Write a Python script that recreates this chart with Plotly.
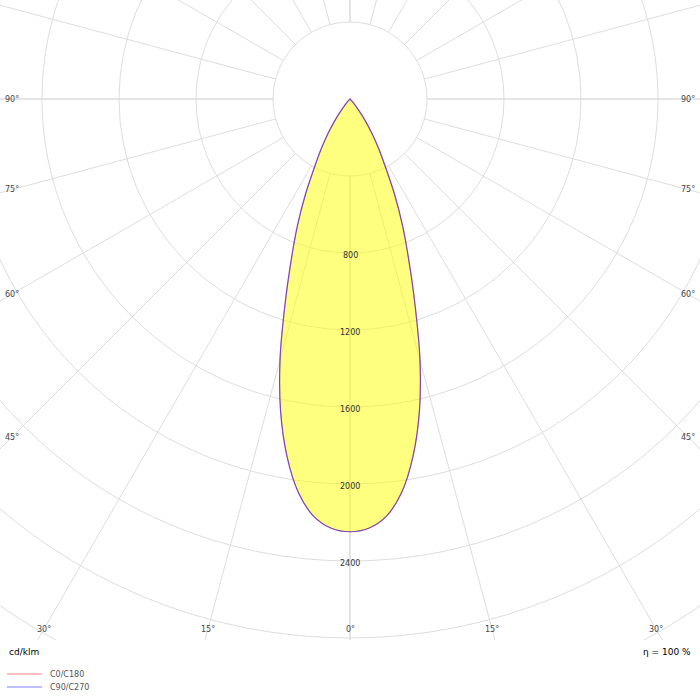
import numpy as np
import plotly.graph_objects as go

# luminous intensity (cd/klm) against gamma angle
gamma = [0, 2.5, 5, 7.5, 10, 12.5, 15, 17.5, 20, 22.5, 25, 27.5, 30,
         32.5, 35, 37.5, 40, 42.5, 45, 50, 60, 70, 80, 90]
c0_c180 = [2248, 2232, 2175, 2060, 1885, 1665, 1405, 1125, 895, 715, 550, 400, 300,
           215, 140, 75, 38, 12, 3, 0, 0, 0, 0, 0]
c90_c270 = [2248, 2232, 2175, 2060, 1885, 1665, 1405, 1125, 895, 715, 550, 400, 300,
            215, 140, 75, 38, 12, 3, 0, 0, 0, 0, 0]

rings = [400, 800, 1200, 1600, 2000, 2400, 2800, 3200, 3600]
ring_labels = [800, 1200, 1600, 2000, 2400]
bottom_labels = [0, 15, 30]
side_labels = [45, 60, 75, 90]

# px <-> cd
k = 400 / 77.0
cx, cy = 350, 99
W, H = 700, 640

FONT = "DejaVu Sans"
GRID = "#dddddd"


def outline(vals):
    g = np.radians(gamma)
    v = np.array(vals, dtype=float)
    xr = v * np.sin(g)
    yr = -v * np.cos(g)
    xs = np.concatenate([xr, -xr[::-1]])
    ys = np.concatenate([yr, yr[::-1]])
    return xs, ys


fig = go.Figure()

x0, y0 = outline(c0_c180)
fig.add_trace(go.Scatter(x=x0, y=y0, mode="lines", fill="toself",
                         fillcolor="rgba(255,255,0,0.5)",
                         line=dict(width=0, shape="spline", smoothing=0.8),
                         hoverinfo="skip", showlegend=False))
fig.add_trace(go.Scatter(x=x0, y=y0, mode="lines", name="C0/C180",
                         line=dict(color="rgba(255,0,0,0.45)", width=1.2,
                                   shape="spline", smoothing=0.8),
                         showlegend=False))
x1, y1 = outline(c90_c270)
fig.add_trace(go.Scatter(x=x1, y=y1, mode="lines", name="C90/C270",
                         line=dict(color="rgba(0,0,255,0.5)", width=1.2,
                                   shape="spline", smoothing=0.8),
                         showlegend=False))

shapes = []
for r in rings:
    shapes.append(dict(type="circle", xref="x", yref="y", x0=-r, x1=r, y0=-r, y1=r,
                       line=dict(color=GRID, width=1), layer="below"))
for a in range(0, 360, 15):
    t = np.radians(a)
    r0, r1 = 400, 5000
    shapes.append(dict(type="line", xref="x", yref="y",
                       x0=r0 * np.sin(t), y0=-r0 * np.cos(t),
                       x1=r1 * np.sin(t), y1=-r1 * np.cos(t),
                       line=dict(color=GRID, width=1.6 if a % 90 == 0 else 1),
                       layer="below"))

ann = []
for r in ring_labels:
    ann.append(dict(x=0, y=-r, yshift=-2, text=str(r), showarrow=False,
                    font=dict(family=FONT, size=8, color="#333333")))
for a in bottom_labels:
    for s in ([1] if a == 0 else [-1, 1]):
        ann.append(dict(x=s * np.tan(np.radians(a)) * 530 * k, y=-530 * k,
                        text=f"{a}°", showarrow=False,
                        font=dict(family=FONT, size=8, color="#444444")))
for a in side_labels:
    dy = 338 / np.tan(np.radians(a))
    for s in [-1, 1]:
        ann.append(dict(x=s * 338 * k, y=-dy * k, text=f"{a}°", showarrow=False,
                        font=dict(family=FONT, size=8, color="#444444")))

ann.append(dict(xref="paper", yref="paper", x=7 / W, y=1 - 652 / 700, xanchor="left",
                yanchor="middle", text="cd/klm", showarrow=False,
                font=dict(family=FONT, size=9, color="#000000")))
ann.append(dict(xref="paper", yref="paper", x=693 / W, y=1 - 652 / 700, xanchor="right",
                yanchor="middle", text="η = 100 %", showarrow=False,
                font=dict(family=FONT, size=9, color="#000000")))

# legend drawn by hand to keep the tight spacing
for name, col, ypx in [("C0/C180", "rgba(255,0,0,0.25)", 674),
                       ("C90/C270", "rgba(0,0,255,0.25)", 687)]:
    shapes.append(dict(type="line", xref="paper", yref="paper",
                       x0=7 / W, x1=42 / W, y0=1 - ypx / 700, y1=1 - ypx / 700,
                       line=dict(color=col, width=2)))
    ann.append(dict(xref="paper", yref="paper", x=48 / W, y=1 - ypx / 700,
                    xanchor="left", yanchor="middle", text=name, showarrow=False,
                    font=dict(family=FONT, size=8, color="#555555")))

fig.update_layout(
    width=700, height=700,
    margin=dict(l=0, r=0, t=0, b=0),
    paper_bgcolor="white", plot_bgcolor="white",
    xaxis=dict(range=[-cx * k, (W - cx) * k], domain=[0, 1], visible=False,
               showgrid=False, zeroline=False),
    yaxis=dict(range=[-(H - cy) * k, cy * k], domain=[1 - H / 700, 1], visible=False,
               showgrid=False, zeroline=False),
    shapes=shapes, annotations=ann, showlegend=False,
)

fig.write_html("out.html", config={"displayModeBar": False},
               post_script="document.body.style.margin='0px';"
                           "document.body.style.overflow='hidden';")
